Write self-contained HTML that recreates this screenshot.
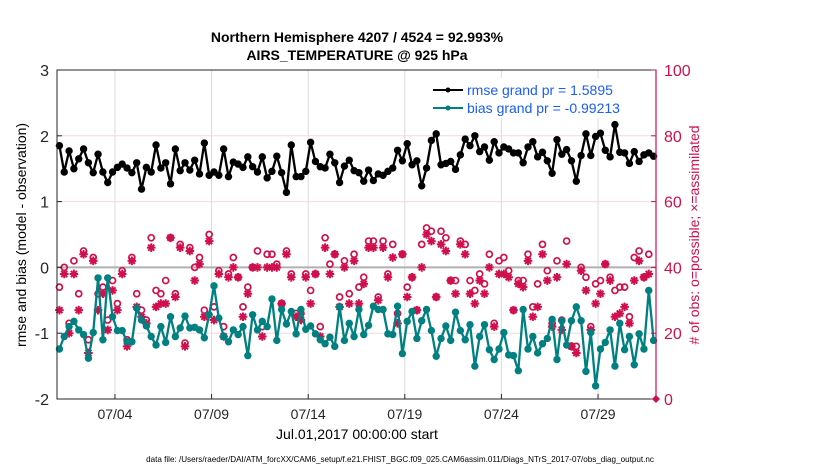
<!DOCTYPE html>
<html><head><meta charset="utf-8"><style>
body{margin:0;background:#fff;width:830px;height:470px;overflow:hidden;font-family:"Liberation Sans",Helvetica,sans-serif}
</style></head><body>
<svg id="chart" width="830" height="470" xmlns="http://www.w3.org/2000/svg" font-family="Liberation Sans, sans-serif">
<text x="357" y="42" text-anchor="middle" font-size="14" font-weight="bold">Northern Hemisphere 4207 / 4524 = 92.993%</text>
<text x="357" y="60" text-anchor="middle" font-size="14" font-weight="bold">AIRS_TEMPERATURE @ 925 hPa</text>
<g id="grid"></g>
<g id="marks"></g>
<rect x="57" y="70" width="599" height="329" fill="none" stroke="#262626" stroke-width="1"/>
<line x1="656" y1="70" x2="656" y2="399" stroke="#d0104c" stroke-width="1.2"/>
<g id="axes"></g>
<text transform="translate(26,235) rotate(-90)" text-anchor="middle" font-size="14">rmse and bias (model - observation)</text>
<text transform="translate(699,235) rotate(-90)" text-anchor="middle" font-size="14" fill="#d0104c"># of obs: o=possible; ×=assimilated</text>
<text x="357" y="439" text-anchor="middle" font-size="14">Jul.01,2017 00:00:00 start</text>
<text x="400" y="462" text-anchor="middle" font-size="8.1">data file: /Users/raeder/DAI/ATM_forcXX/CAM6_setup/f.e21.FHIST_BGC.f09_025.CAM6assim.011/Diags_NTrS_2017-07/obs_diag_output.nc</text>
<g>
<rect x="428" y="78" width="226" height="40" fill="#fff"/>
<g>
<line x1="433" y1="90" x2="463" y2="90" stroke="#000" stroke-width="2"/><circle cx="448" cy="90" r="2.5" fill="#000"/>
<text x="467" y="95" font-size="14" fill="#1a5cff">rmse grand pr = 1.5895</text></g>
<g>
<line x1="433" y1="108" x2="463" y2="108" stroke="#008080" stroke-width="2"/><circle cx="448" cy="108" r="2.5" fill="#008080"/>
<text x="467" y="113" font-size="14" fill="#1a5cff">bias grand pr = -0.99213</text></g>
</g>
</svg>
<script>
const rmse=[1.85,1.45,1.77,1.5,1.65,1.8,1.59,1.44,1.72,1.45,1.29,1.45,1.52,1.57,1.51,1.44,1.59,1.19,1.52,1.45,1.86,1.51,1.59,1.27,1.8,1.47,1.59,1.48,1.63,1.42,1.89,1.4,1.45,1.4,1.8,1.38,1.6,1.57,1.52,1.68,1.53,1.45,1.68,1.36,
1.46,1.69,1.44,1.14,1.86,1.38,1.38,1.46,1.9,1.61,1.53,1.51,1.72,1.59,1.29,1.54,1.63,1.47,1.44,1.31,1.48,1.32,1.42,1.4,1.46,1.51,1.78,1.62,1.88,1.56,1.62,1.24,1.51,1.93,2.03,1.56,1.58,1.61,1.49,1.71,1.95,
1.85,2.0,1.76,1.83,1.63,1.91,1.74,1.83,1.8,1.74,1.74,1.59,1.83,1.91,1.68,1.75,1.62,1.43,1.94,1.72,1.79,1.62,1.31,1.7,2.03,1.7,1.99,2.04,1.78,1.68,2.17,1.75,1.74,1.58,1.76,1.61,1.71,1.74,1.69];
const bias=[-1.24,-1.05,-0.9,-0.82,-0.95,-1.02,-1.38,-0.99,-0.16,-1.1,-0.16,-0.75,-0.96,-0.96,-1.13,-1.13,-0.62,-0.8,-0.89,-1.05,-1.18,-0.9,-1.14,-0.75,-1.05,-0.92,-0.74,-0.92,-0.91,-0.95,-1.07,-0.72,-0.28,-0.77,-1.05,-1.13,-0.95,-1.02,-0.9,-1.34,-0.72,-0.95,-0.82,-0.9,
-0.48,-1.11,-0.64,-0.86,-0.67,-1.01,-0.64,-0.94,-0.89,-1.01,-1.1,-1.16,-1.06,-1.2,-0.6,-1.11,-0.85,-1.05,-0.64,-1.02,-0.88,-0.59,-0.64,-0.64,-1.01,-1.02,-0.59,-1.31,-0.82,-0.67,-1.08,-0.81,-0.64,-0.96,-1.35,-1.08,-0.89,-1.11,-0.68,-0.96,-1.1,
-0.87,-1.5,-1.05,-0.87,-1.25,-1.4,-1.24,-0.99,-1.33,-1.34,-1.57,-0.64,-1.24,-1.05,-1.3,-1.16,-1.08,-0.79,-1.4,-0.81,-1.18,-0.81,-0.6,-0.81,-1.58,-0.99,-1.8,-1.24,-1.14,-0.95,-1.5,-0.85,-1.25,-1.05,-1.48,-1.01,-1.24,-0.35,-1.11];
const possible=[34,40,23,42,32,45,18,43,32,34,24,36,29,39,18,43,32,27,24,49,33,32,36,49,32,47,17,46,40,43,27,50,28,39,22,38,43,37,28,34,40,45,22,44,
44,41,29,45,38,26,26,38,33,38,22,49,41,44,31,42,32,44,34,37,48,48,31,48,38,47,26,44,34,37,27,47,52,51,31,51,49,36,36,48,47,
36,33,38,35,44,23,42,43,39,27,36,36,44,28,35,47,39,23,42,24,48,16,16,40,37,22,35,36,41,37,33,34,34,25,43,45,37,44];
const assimilated=[27,38,20,38,27,44,14,42,27,32,21,33,27,38,16,42,28,25,23,46,28,29,29,49,31,46,16,45,36,41,25,48,24,38,19,37,40,37,25,32,40,40,19,40,
40,40,29,44,37,25,24,37,29,38,19,46,38,44,28,40,29,42,29,35,46,46,30,46,37,43,23,44,31,37,27,40,50,48,31,47,45,36,32,47,44,
32,29,36,32,40,22,38,38,37,27,35,34,42,25,28,44,36,22,37,21,41,16,14,39,33,21,29,32,41,36,25,26,28,23,36,42,37,38];
const xTickLabels=["07/04","07/09","07/14","07/19","07/24","07/29"];
const xTickDays=[3,8,13,18,23,28];
const yLeftTicks=[-2,-1,0,1,2,3];
const yRightTicks=[0,20,40,60,80,100];

const NS="http://www.w3.org/2000/svg";
const X0=57,X1=656,Y0=70,Y1=399;
const xs=d=>X0+(X1-X0)*d/31;
const yl=v=>Y1-(Y1-Y0)*(v+2)/5;
const yr=v=>Y1-(Y1-Y0)*v/100;
const dayOf=i=>0.125+i*0.25;
function mk(tag,attrs,parent){const e=document.createElementNS(NS,tag);for(const k in attrs)e.setAttribute(k,attrs[k]);parent.appendChild(e);return e;}
const grid=document.getElementById('grid'),marks=document.getElementById('marks'),axes=document.getElementById('axes');
xTickDays.forEach((d,i)=>{
  const g=mk('line',{x1:xs(d),x2:xs(d),y1:Y0,y2:Y1,stroke:'#dcdcdc','stroke-width':1},grid);
  
  
  const t=mk('line',{x1:xs(d),x2:xs(d),y1:Y1,y2:Y1-5,stroke:'#262626'},axes);
  
  
  const l=mk('text',{x:xs(d),y:Y1+20,'text-anchor':'middle','font-size':14,fill:'#262626'},axes);
  l.textContent=xTickLabels[i];
  
  
});
yRightTicks.forEach(v=>{
  if(v>0&&v<100){const g=mk('line',{x1:X0,x2:X1,y1:yr(v),y2:yr(v),stroke:'#f0d8e2','stroke-width':1},grid);
  
  }
  const t=mk('line',{x1:X1,x2:X1-5,y1:yr(v),y2:yr(v),stroke:'#d0104c'},axes);
  
  
  const l=mk('text',{x:X1+8,y:yr(v)+6,'font-size':16,fill:'#d0104c'},axes);
  l.textContent=v;
  
  
});
yLeftTicks.forEach(v=>{
  const t=mk('line',{x1:X0,x2:X0+5,y1:yl(v),y2:yl(v),stroke:'#262626'},axes);
  
  
  const l=mk('text',{x:X0-8,y:yl(v)+6,'text-anchor':'end','font-size':16,fill:'#262626'},axes);
  l.textContent=v;
  
  
});
const z=mk('line',{x1:X0,x2:X1,y1:yl(0),y2:yl(0),stroke:'#b0b0b0','stroke-width':2},grid);


possible.forEach((v,i)=>{
  const c=mk('circle',{cx:xs(dayOf(i)),cy:yr(v),r:3,fill:'none',stroke:'#d0104c','stroke-width':1.7},marks);
  
  
});
assimilated.forEach((v,i)=>{
  const x=xs(dayOf(i)),y=yr(v),r=4.3;
  let d='';
  for(let k=0;k<4;k++){const a=k*Math.PI/4;d+=`M${x-r*Math.cos(a)},${y-r*Math.sin(a)}L${x+r*Math.cos(a)},${y+r*Math.sin(a)}`;}
  const p=mk('path',{d:d,stroke:'#d0104c','stroke-width':2},marks);
  
  
});
const endM=mk('path',{d:`M${X1-4},${Y1}L${X1},${Y1-4}L${X1+4},${Y1}L${X1},${Y1+4}Z`,fill:'#d0104c'},marks);


function series(arr,color,name){
  const pts=arr.map((v,i)=>xs(dayOf(i)).toFixed(1)+','+yl(v).toFixed(1)).join(' ');
  const pl=mk('polyline',{points:pts,fill:'none',stroke:color,'stroke-width':2.3,'stroke-linejoin':'round'},marks);
  
  
  arr.forEach((v,i)=>{
    const c=mk('circle',{cx:xs(dayOf(i)),cy:yl(v),r:3.7,fill:color},marks);
    
    
  });
}
series(bias,'#008080','bias');
series(rmse,'#000000','rmse');
</script>
</body></html>
